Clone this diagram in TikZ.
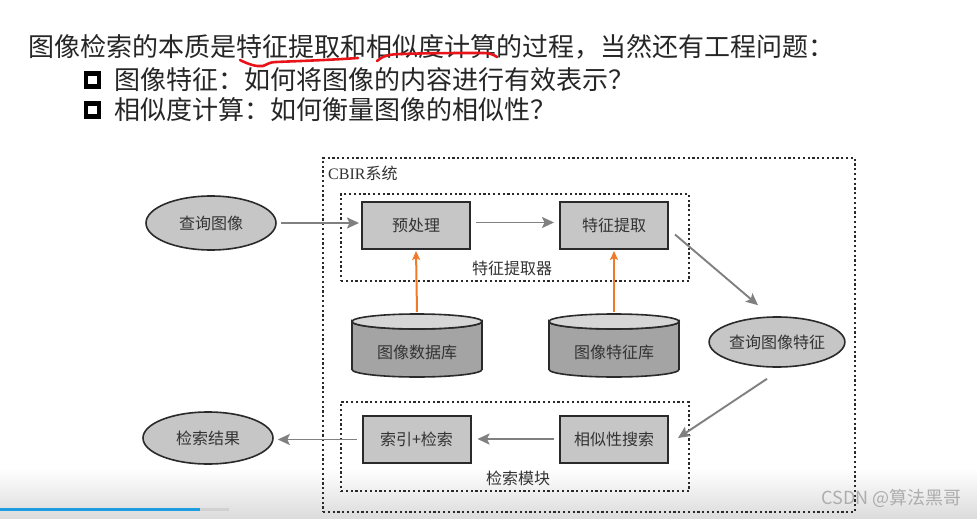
\documentclass[tikz,border=0pt]{standalone}
\usepackage{fontspec}
\setmainfont{Liberation Serif}
\newfontfamily\cjk{Noto Sans CJK SC}
\usetikzlibrary{arrows.meta,shapes.geometric,calc}
\definecolor{boxfill}{HTML}{C6C6C6}
\definecolor{edge}{HTML}{2A2A2A}
\definecolor{cylbody}{HTML}{A4A4A4}
\definecolor{cyltop}{HTML}{D6D6D6}
\definecolor{arrgray}{HTML}{808080}
\definecolor{orangearr}{HTML}{F07A2A}
\definecolor{txt}{HTML}{333333}
\definecolor{barblue}{HTML}{1E9EE0}
\definecolor{pen}{HTML}{E8141A}
\tikzset{
  big/.style={font=\cjk\fontsize{26}{28}\selectfont, text=black!85, inner sep=0pt, anchor=west},
  lbl/.style={font=\cjk\fontsize{16}{18}\selectfont, text=txt},
  box/.style={lbl, draw=edge, fill=boxfill, line width=2pt, minimum width=108pt, minimum height=47pt, inner sep=0pt},
  ell/.style={lbl, ellipse, draw=edge, fill=boxfill, line width=1.6pt, minimum width=130pt, minimum height=54pt, inner sep=0pt},
  dotbox/.style={draw=edge, line width=2.2pt, dash pattern=on 2.2pt off 2.6pt, inner sep=0pt},
  garrow/.style={draw=arrgray, line width=1.9pt, -{Stealth[length=12pt,width=11pt,inset=2.5pt]}},
  oarrow/.style={draw=orangearr, line width=2pt, -{Stealth[length=9pt,width=8pt,inset=2pt]}},
  bul/.style={draw=black, fill=white, line width=4.4pt, minimum size=13pt, inner sep=0pt},
  cylline/.style={draw=edge, line width=1.6pt},
  penline/.style={draw=pen, line width=2.6pt, line cap=round, line join=round}
}
\begin{document}
\begin{tikzpicture}[x=1pt,y=-1pt]
\useasboundingbox (0,0) rectangle (977,519);
\fill[white] (0,0) rectangle (977,519);
\shade[top color=white, bottom color=black!14] (0,468) rectangle (977,519);

% heading text
\node[big] (title) at (28,47) {图像检索的本质是特征提取和相似度计算的过程，当然还有工程问题：};
\node[bul] (b1) at (92.5,80) {};
\node[big] (t1) at (114,80) {图像特征：如何将图像的内容进行有效表示？};
\node[bul] (b2) at (92.5,110) {};
\node[big] (t2) at (114,110) {相似度计算：如何衡量图像的相似性？};
\draw[penline] (240,60) .. controls (248,64) and (256,67) .. (263,66) .. controls (268,64) and (270,62) .. (276,62) .. controls (300,61) and (330,60) .. (358,58);
\draw[penline] (377,61) .. controls (382,56) and (390,54) .. (402,54) .. controls (430,53) and (460,53) .. (484,53) .. controls (490,53) and (494,55) .. (497,57);

% containers
\node[dotbox, minimum width=532pt, minimum height=354pt] (cbir) at (589,335) {};
\node[lbl, anchor=west, inner sep=0pt] (cbirlbl) at (328,173) {{\rmfamily\fontsize{16}{18}\selectfont CBIR}系统};
\node[dotbox, minimum width=348pt, minimum height=87pt] (fx) at (515,237.5) {};
\node[lbl] (fxlbl) at (512,268) {特征提取器};
\node[dotbox, minimum width=348pt, minimum height=89pt] (rm) at (515,446.5) {};
\node[lbl] (rmlbl) at (518,478) {检索模块};

% nodes
\node[ell] (q) at (211,223) {查询图像};
\node[box] (pre) at (416,225.5) {预处理};
\node[box] (fe) at (614,225.5) {特征提取};
\node[ell, minimum height=50pt] (qf) at (777,342) {查询图像特征};
\node[box] (idx) at (416.5,439.5) {索引+检索};
\node[box] (sim) at (614,439) {相似性搜索};
\node[ell, minimum height=52pt] (res) at (208,438) {检索结果};

% cylinders
\foreach \cx/\nm/\tx in {417/db1/图像数据库, 614/db2/图像特征库}{
  \path[fill=cylbody, cylline] (\cx-65,321.5) -- (\cx-65,369.5)
     arc[start angle=180, end angle=0, x radius=65, y radius=7.5]
     -- (\cx+65,321.5) arc[start angle=0, end angle=180, x radius=65, y radius=7.5] -- cycle;
  \path[fill=cyltop, cylline] (\cx,321.5) ellipse[x radius=65, y radius=7.5];
  \node[lbl] (\nm) at (\cx,352) {\tx};
  \coordinate (\nm top) at (\cx,312);
}

% connectors
\draw[garrow, shorten <=4pt, shorten >=2pt] (q.east) -- (q.east -| pre.west);
\draw[garrow] ($(pre.east)+(5,-3)$) -- ($(fe.west)+(-5,-3)$);
\draw[garrow] ($(fe.east)+(6,9)$) -- ($(qf.north)+(-19,-11)$);
\draw[garrow] ($(qf.south)+(-10,11)$) -- ($(sim.east)+(9,-1)$);
\draw[garrow, shorten <=5pt, shorten >=6pt] (sim.west) -- (sim.west -| idx.east);
\draw[garrow, shorten <=5pt, shorten >=4pt] (idx.west) -- (idx.west -| res.east);
\draw[oarrow, shorten >=1pt] (db1top) -- (pre.south);
\draw[oarrow, shorten >=1pt] (db2top) -- (fe.south);

% video overlay
\fill[barblue] (0,507.5) rectangle (200,510.5);
\fill[black!18] (200,507.5) rectangle (229,510.5);
\node[font=\cjk\fontsize{18}{20}\selectfont, text=black!32, anchor=east, inner sep=0pt] (wm) at (962,498) {CSDN @算法黑哥};
\end{tikzpicture}
\end{document}
